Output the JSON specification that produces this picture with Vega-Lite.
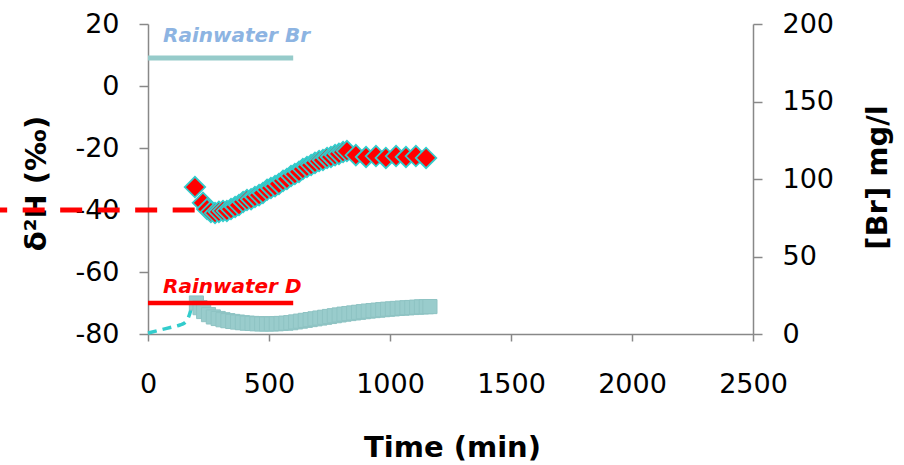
{
  "$schema": "https://vega.github.io/schema/vega-lite/v6.json",
  "autosize": "none",
  "width": 605,
  "height": 310,
  "padding": {"left": 148, "top": 24, "right": 151, "bottom": 131},
  "background": "white",
  "config": {
    "view": {"stroke": null},
    "font": "DejaVu Sans",
    "axis": {
      "grid": false,
      "domainColor": "#888888",
      "domainWidth": 1.5,
      "tickColor": "#888888",
      "tickWidth": 1.5,
      "labelFont": "DejaVu Sans",
      "labelFontSize": 27,
      "labelColor": "#000000",
      "labelFlush": false,
      "labelOverlap": false,
      "labelExpr": "'' + datum.value",
      "titleFont": "DejaVu Sans",
      "titleFontSize": 29,
      "titleFontWeight": "bold",
      "titleColor": "#000000"
    }
  },
  "datasets": {
    "br": [
      {"time": 200, "br": 20}, {"time": 215, "br": 17}, {"time": 230, "br": 14.5}, {"time": 250, "br": 12.5},
      {"time": 270, "br": 11}, {"time": 290, "br": 10}, {"time": 310, "br": 9.2}, {"time": 330, "br": 8.6},
      {"time": 350, "br": 8.1}, {"time": 370, "br": 7.7}, {"time": 390, "br": 7.3}, {"time": 410, "br": 7.0},
      {"time": 430, "br": 6.8}, {"time": 450, "br": 6.6}, {"time": 470, "br": 6.5}, {"time": 490, "br": 6.5},
      {"time": 510, "br": 6.5}, {"time": 530, "br": 6.6}, {"time": 550, "br": 6.8}, {"time": 570, "br": 7.0},
      {"time": 590, "br": 7.3}, {"time": 610, "br": 7.8}, {"time": 630, "br": 8.3}, {"time": 650, "br": 8.8},
      {"time": 670, "br": 9.3}, {"time": 690, "br": 9.8}, {"time": 710, "br": 10.3}, {"time": 730, "br": 10.8},
      {"time": 750, "br": 11.3}, {"time": 770, "br": 11.8}, {"time": 790, "br": 12.3}, {"time": 810, "br": 12.8},
      {"time": 830, "br": 13.2}, {"time": 850, "br": 13.6}, {"time": 870, "br": 14.0}, {"time": 890, "br": 14.4},
      {"time": 910, "br": 14.8}, {"time": 930, "br": 15.1}, {"time": 950, "br": 15.4}, {"time": 970, "br": 15.7},
      {"time": 990, "br": 16.0}, {"time": 1010, "br": 16.2}, {"time": 1030, "br": 16.5}, {"time": 1050, "br": 16.7},
      {"time": 1070, "br": 16.9}, {"time": 1090, "br": 17.1}, {"time": 1110, "br": 17.3}, {"time": 1130, "br": 17.5},
      {"time": 1150, "br": 17.6}, {"time": 1165, "br": 17.7}
    ],
    "brdash": [
      {"time": 0, "br": 0.6}, {"time": 50, "br": 2.6}, {"time": 100, "br": 4.5}, {"time": 132, "br": 5.8},
      {"time": 150, "br": 7}, {"time": 165, "br": 10}, {"time": 176, "br": 15}, {"time": 183, "br": 20}, {"time": 190, "br": 22.5}
    ],
    "d": [
      {"time": 194, "d": -32.6}, {"time": 227, "d": -37.7}, {"time": 244, "d": -39.7}, {"time": 260, "d": -40.6},
      {"time": 277, "d": -41.0}, {"time": 293, "d": -40.6}, {"time": 310, "d": -40.3}, {"time": 326, "d": -40.3},
      {"time": 343, "d": -39.7}, {"time": 360, "d": -39.0}, {"time": 376, "d": -38.4}, {"time": 393, "d": -37.4},
      {"time": 409, "d": -36.8}, {"time": 426, "d": -36.5}, {"time": 442, "d": -35.8}, {"time": 459, "d": -35.2},
      {"time": 475, "d": -34.5}, {"time": 492, "d": -33.5}, {"time": 508, "d": -32.9}, {"time": 525, "d": -32.3},
      {"time": 541, "d": -31.6}, {"time": 558, "d": -30.6}, {"time": 574, "d": -30.0}, {"time": 591, "d": -29.0},
      {"time": 607, "d": -28.4}, {"time": 624, "d": -27.7}, {"time": 640, "d": -26.8}, {"time": 657, "d": -26.1},
      {"time": 674, "d": -25.5}, {"time": 690, "d": -24.8}, {"time": 707, "d": -24.2}, {"time": 723, "d": -23.9},
      {"time": 740, "d": -23.2}, {"time": 756, "d": -22.9}, {"time": 773, "d": -22.3}, {"time": 789, "d": -21.9},
      {"time": 806, "d": -21.3}, {"time": 822, "d": -21.0}, {"time": 859, "d": -22.3}, {"time": 901, "d": -22.9},
      {"time": 942, "d": -22.6}, {"time": 983, "d": -23.2}, {"time": 1025, "d": -22.6}, {"time": 1066, "d": -22.9},
      {"time": 1107, "d": -22.6}, {"time": 1149, "d": -23.2}
    ],
    "rainBr": [{"time": 0, "br": 178}, {"time": 600, "br": 178}],
    "rainD": [{"time": 0, "d": -70}, {"time": 600, "d": -70}],
    "ref40": [{"time": -615, "d": -40}, {"time": 195, "d": -40}],
    "labBr": [{"time": 62, "br": 192, "label": "Rainwater Br"}],
    "labD": [{"time": 62, "d": -64.8, "label": "Rainwater D"}]
  },
  "layer": [
    {
      "layer": [
        {
          "data": {"name": "rainBr"},
          "mark": {"type": "line", "color": "#96CBCA", "strokeWidth": 5},
          "encoding": {
            "x": {"field": "time", "type": "quantitative", "scale": {"domain": [0, 2500], "nice": false},
              "axis": {"values": [0, 500, 1000, 1500, 2000, 2500], "tickSize": 7, "labelBaseline": "alphabetic", "labelPadding": 51,
                "title": "Time (min)", "titleX": 304, "titleY": 122, "titleBaseline": "alphabetic", "titleAlign": "center"}},
            "y": {"field": "br", "type": "quantitative", "scale": {"domain": [0, 200], "nice": false, "zero": false},
              "axis": {"orient": "right", "values": [0, 50, 100, 150, 200], "tickSize": 9, "labelPadding": 20,
                "title": "[Br] mg/l", "titleAngle": -90, "titleX": 124, "titleY": 153, "titleAlign": "center", "titleBaseline": "middle"}}
          }
        },
        {
          "data": {"name": "brdash"},
          "mark": {"type": "line", "color": "#33CCCC", "strokeWidth": 3.5, "strokeDash": [9, 6], "interpolate": "monotone"},
          "encoding": {
            "x": {"field": "time", "type": "quantitative"},
            "y": {"field": "br", "type": "quantitative"}
          }
        },
        {
          "data": {"name": "br"},
          "mark": {"type": "point", "shape": "square", "filled": true, "size": 200, "color": "#99CCCC", "stroke": "#8EC3C3", "strokeWidth": 1, "opacity": 1},
          "encoding": {
            "x": {"field": "time", "type": "quantitative"},
            "y": {"field": "br", "type": "quantitative"}
          }
        },
        {
          "data": {"name": "labBr"},
          "mark": {"type": "text", "align": "left", "baseline": "middle", "font": "DejaVu Sans", "fontSize": 20, "fontWeight": "bold", "fontStyle": "italic", "color": "#8DB4E2"},
          "encoding": {
            "x": {"field": "time", "type": "quantitative"},
            "y": {"field": "br", "type": "quantitative"},
            "text": {"field": "label"}
          }
        }
      ]
    },
    {
      "layer": [
        {
          "data": {"name": "ref40"},
          "mark": {"type": "line", "color": "#FF0000", "strokeWidth": 5, "strokeDash": [22, 15.5], "strokeDashOffset": 14, "clip": false},
          "encoding": {
            "x": {"field": "time", "type": "quantitative"},
            "y": {"field": "d", "type": "quantitative", "scale": {"domain": [-80, 20], "nice": false, "zero": false},
              "axis": {"orient": "left", "values": [-80, -60, -40, -20, 0, 20], "tickSize": 9, "labelPadding": 20,
                "title": "δ²H (‰)", "titleAngle": -90, "titleX": -112, "titleY": 159, "titleAlign": "center", "titleBaseline": "middle"}}
          }
        },
        {
          "data": {"name": "rainD"},
          "mark": {"type": "line", "color": "#FF0000", "strokeWidth": 4.5},
          "encoding": {
            "x": {"field": "time", "type": "quantitative"},
            "y": {"field": "d", "type": "quantitative"}
          }
        },
        {
          "data": {"name": "d"},
          "mark": {"type": "point", "shape": "diamond", "filled": true, "size": 420, "fill": "#FF0000", "stroke": "#33CCCC", "strokeWidth": 1.8, "opacity": 1},
          "encoding": {
            "x": {"field": "time", "type": "quantitative"},
            "y": {"field": "d", "type": "quantitative"}
          }
        },
        {
          "data": {"name": "labD"},
          "mark": {"type": "text", "align": "left", "baseline": "middle", "font": "DejaVu Sans", "fontSize": 20, "fontWeight": "bold", "fontStyle": "italic", "color": "#FF0000"},
          "encoding": {
            "x": {"field": "time", "type": "quantitative"},
            "y": {"field": "d", "type": "quantitative"},
            "text": {"field": "label"}
          }
        }
      ]
    }
  ],
  "resolve": {"scale": {"y": "independent"}}
}
